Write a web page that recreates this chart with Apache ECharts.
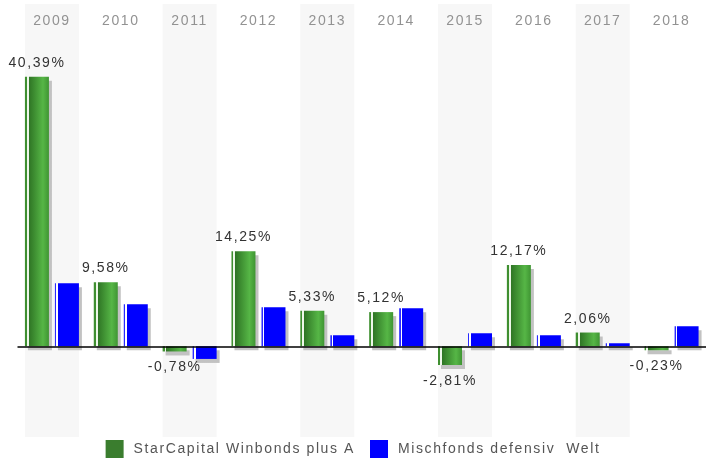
<!DOCTYPE html>
<html>
<head>
<meta charset="utf-8">
<script src="https://cdn.jsdelivr.net/npm/echarts@6/dist/echarts.min.js"></script>
<style>
  html, body { margin: 0; padding: 0; background: #fff; }
  #chart { width: 706px; height: 463px; }
</style>
</head>
<body>
<div id="chart"></div>
<script>
// Jahre und Wertentwicklung in %
const years = ['2009', '2010', '2011', '2012', '2013', '2014', '2015', '2016', '2017', '2018'];
const starCapital = [40.39, 9.58, -0.78, 14.25, 5.33, 5.12, -2.81, 12.17, 2.06, -0.23];
const mischfonds = [9.45, 6.3, -1.9, 5.85, 1.65, 5.7, 1.95, 1.65, 0.45, 3.0];
// graue Hinterlegung jeder zweiten Spalte
const shaded = [1, 0, 1, 0, 1, 0, 1, 0, 1, 0];

const fmt = (v) => v.toFixed(2).replace('.', ',') + '%';

// gesperrte Schrift wie im Original: jedes Setzen der Schrift setzt auch letterSpacing
const SPACING = '1.6px';
const fontProp = Object.getOwnPropertyDescriptor(CanvasRenderingContext2D.prototype, 'font');
Object.defineProperty(CanvasRenderingContext2D.prototype, 'font', {
  configurable: true,
  get() { return fontProp.get.call(this); },
  set(v) {
    fontProp.set.call(this, v);
    this.letterSpacing = SPACING;
  },
});

const chart = echarts.init(document.getElementById('chart'));

const greenFill = new echarts.graphic.LinearGradient(0, 0, 1, 0, [
  { offset: 0, color: '#3f8f30' },
  { offset: 0.08, color: '#3f8f30' },
  { offset: 0.08, color: '#eef7ea' },
  { offset: 0.16, color: '#eef7ea' },
  { offset: 0.16, color: '#2e7424' },
  { offset: 0.75, color: '#56b646' },
  { offset: 1, color: '#3f9533' },
]);
const blueFill = new echarts.graphic.LinearGradient(0, 0, 1, 0, [
  { offset: 0, color: '#2a2aff' },
  { offset: 0.06, color: '#2a2aff' },
  { offset: 0.06, color: '#ffffff' },
  { offset: 0.12, color: '#ffffff' },
  { offset: 0.12, color: '#0000ff' },
  { offset: 1, color: '#0000ff' },
]);
const shadow = {
  shadowColor: '#c2c2c2',
  shadowBlur: 0,
  shadowOffsetX: 3,
  shadowOffsetY: 4,
};

const option = {
  animation: false,
  textStyle: { fontFamily: 'Liberation Sans, Arial, sans-serif' },
  grid: { left: 17.5, right: 0, top: 4, bottom: 26 },
  legend: {
    bottom: 0,
    left: 'center',
    icon: 'rect',
    itemWidth: 18,
    itemHeight: 18,
    itemGap: 15,
    textStyle: { color: '#555', fontSize: 14, padding: [0, 0, 0, 5] },
    data: [
      { name: 'StarCapital Winbonds plus A', itemStyle: { color: '#3a7d2e', shadowBlur: 0, shadowOffsetX: 0, shadowOffsetY: 0 } },
      { name: 'Mischfonds defensiv  Welt', itemStyle: { color: '#0000ff', shadowBlur: 0, shadowOffsetX: 0, shadowOffsetY: 0 } },
    ],
  },
  xAxis: [
    {
      type: 'category',
      position: 'top',
      data: years,
      axisLine: { show: false },
      axisTick: { show: false },
      axisLabel: { inside: true, margin: 9, color: '#929292', fontSize: 14 },
    },
    {
      type: 'category',
      data: years,
      show: false,
    },
  ],
  yAxis: [
    { type: 'value', min: -13.6, max: 51.3, show: false },
    { type: 'value', min: 0, max: 1, show: false },
  ],
  series: [
    {
      // Hintergrundbänder
      type: 'bar',
      xAxisIndex: 1,
      yAxisIndex: 1,
      data: shaded,
      barWidth: 54,
      silent: true,
      z: 0,
      itemStyle: { color: '#f7f7f7' },
    },
    {
      // Nulllinie
      type: 'line',
      data: [],
      z: 1,
      markLine: {
        silent: true,
        symbol: ['none', 'none'],
        label: { show: false },
        lineStyle: { color: '#000', width: 1.5, type: 'solid' },
        data: [{ yAxis: 0 }],
      },
    },
    {
      name: 'StarCapital Winbonds plus A',
      type: 'bar',
      z: 2,
      barWidth: 24,
      barGap: '25%',
      barMinHeight: 4,
      itemStyle: Object.assign({ color: greenFill }, shadow),
      label: {
        show: true,
        color: '#333',
        fontSize: 14,
        distance: 6,
        formatter: (p) => fmt(p.value),
      },
      data: starCapital.map((v) => ({
        value: v,
        label: v < 0 ? { position: 'bottom', distance: 8 } : { position: 'top' },
      })),
    },
    {
      name: 'Mischfonds defensiv  Welt',
      type: 'bar',
      z: 2,
      barWidth: 24,
      itemStyle: Object.assign({ color: blueFill }, shadow),
      data: mischfonds,
    },
  ],
};

chart.setOption(option);
</script>
</body>
</html>
